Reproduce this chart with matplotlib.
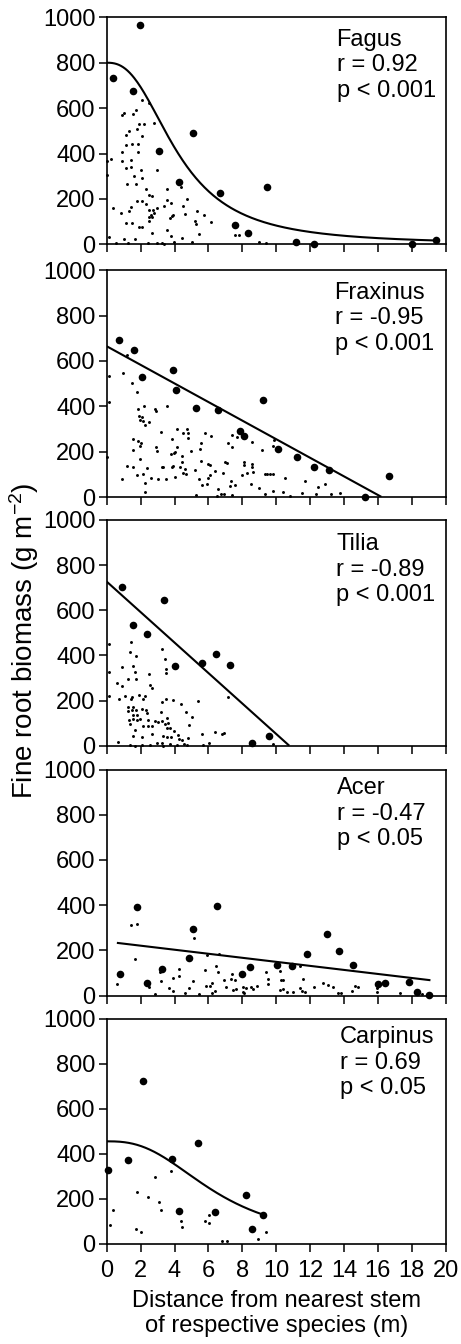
import numpy as np
import matplotlib
matplotlib.use("Agg")
import matplotlib.pyplot as plt

plt.rcParams['font.family'] = ['Liberation Sans', 'DejaVu Sans']
plt.rcParams['mathtext.fontset'] = 'custom'
plt.rcParams['mathtext.rm'] = 'Liberation Sans'
plt.rcParams['mathtext.it'] = 'Liberation Sans:italic'
plt.rcParams['mathtext.bf'] = 'Liberation Sans:bold'

# ---------------- data ----------------
species = ["Fagus", "Fraxinus", "Tilia", "Acer", "Carpinus"]
r_labels = ["r = 0.92", "r = -0.95", "r = -0.89", "r = -0.47", "r = 0.69"]
p_labels = ["p < 0.001", "p < 0.001", "p < 0.001", "p < 0.05", "p < 0.05"]

fagus_large_x = [1.97, 0.35, 1.57, 5.11, 3.10, 4.25, 6.70, 9.46, 7.55, 8.36, 11.17, 12.25, 17.99, 19.41]
fagus_large_y = [965, 733, 674, 489, 412, 276, 226, 251, 86, 49, 11, 2, 2, 19]
fagus_small_x = [2.06, 2.52, 1.73, 1.53, 1.02, 0.90, 1.89, 2.22, 2.81, 1.77, 1.34, 1.14, 2.08, 1.14,
                 1.47, 1.83, 1.83, 0.92, 0.23, 0.04, 0.92, 1.41, 1.14, 1.43, 2.02, 2.95, 0.0, 1.59,
                 2.06, 1.18, 1.73, 2.30, 3.56, 2.52, 2.69, 4.38, 4.74, 4.48, 0.35, 0.82, 1.32, 1.43,
                 1.81, 2.06, 2.30, 2.52, 2.75, 2.99, 3.40, 3.54, 3.79, 2.61, 2.52, 2.69, 2.79, 3.93,
                 3.83, 3.71, 4.62, 5.31, 5.76, 5.21, 5.25, 1.14, 1.51, 1.93, 2.10, 2.52, 3.54, 6.17,
                 2.65, 3.79, 5.43, 0.14, 1.04, 1.69, 7.55, 7.82, 0.55, 1.28, 2.46, 2.95, 3.24, 3.36,
                 3.97, 4.42, 5.01, 8.99, 9.38]
fagus_small_y = [635, 624, 594, 572, 579, 569, 532, 531, 535, 509, 498, 481, 476, 439,
                 444, 444, 406, 407, 378, 366, 366, 370, 336, 341, 327, 326, 307, 299,
                 291, 266, 267, 246, 245, 218, 214, 251, 201, 171, 159, 140, 148, 164,
                 189, 189, 179, 152, 152, 159, 167, 196, 182, 130, 121, 120, 137, 130,
                 126, 115, 134, 145, 129, 103, 89, 93, 93, 75, 78, 105, 64, 100,
                 49, 39, 46, 34, 22, 24, 43, 43, 5, 5, 8, 8, 5, 2,
                 10, 27, 10, 12, 5]
fagus_fit = (800, 4.22, 2.5)      # a / (1 + (x / c) ** b)
fagus_fit_range = (0, 19.4)

fraxinus_large_x = [0.73, 1.61, 3.91, 2.06, 4.07, 5.29, 6.59, 9.20, 7.88, 8.10, 10.13, 11.23, 12.21, 13.10, 16.67, 15.26]
fraxinus_large_y = [694, 650, 562, 528, 473, 391, 385, 429, 290, 271, 210, 175, 134, 118, 94, 2]
fraxinus_small_x = [1.18, 0.16, 0.94, 1.47, 1.77, 0.16, 1.87, 2.22, 2.87, 2.89, 3.58, 1.93, 2.10, 1.96,
                    2.16, 2.50, 2.26, 3.18, 4.17, 4.48, 4.76, 4.78, 4.78, 3.87, 1.53, 1.87, 2.02, 1.96,
                    1.57, 2.89, 2.99, 4.17, 4.03, 3.77, 3.97, 4.42, 4.95, 5.50, 5.54, 5.78, 6.13, 7.14,
                    7.39, 7.37, 7.67, 8.59, 9.18, 9.79, 9.89, 0.04, 1.96, 1.18, 1.57, 2.16, 1.77, 2.36,
                    3.24, 3.34, 3.83, 3.89, 4.46, 4.32, 4.62, 5.21, 4.03, 4.48, 4.68, 2.59, 3.05, 3.50,
                    2.26, 2.26, 0.88, 5.56, 5.98, 6.09, 6.09, 5.96, 6.39, 5.46, 5.64, 5.90, 6.88, 6.96,
                    7.08, 7.31, 7.27, 7.57, 8.00, 8.12, 8.12, 8.30, 8.55, 8.59, 8.49, 8.65, 8.99, 9.34,
                    9.44, 9.63, 9.83, 9.34, 9.83, 10.42, 10.52, 10.81, 6.55, 6.72, 6.92, 7.41, 5.25, 6.49,
                    11.70, 12.49, 12.90, 11.54, 12.33, 13.21, 13.76]
fraxinus_small_y = [626, 535, 546, 501, 462, 421, 390, 400, 388, 381, 400, 357, 351, 340,
                    337, 332, 318, 288, 300, 284, 298, 281, 262, 256, 256, 247, 237, 225,
                    207, 219, 204, 222, 200, 190, 196, 181, 204, 213, 240, 284, 269, 240,
                    221, 272, 263, 241, 207, 225, 251, 175, 168, 137, 134, 101, 97, 126,
                    132, 134, 131, 137, 153, 131, 122, 121, 87, 104, 101, 82, 78, 81,
                    60, 24, 78, 159, 144, 140, 97, 82, 115, 78, 53, 57, 104, 154,
                    149, 72, 49, 51, 97, 141, 153, 104, 147, 134, 56, 112, 41, 100,
                    101, 103, 103, 15, 26, 21, 85, 6, 34, 12, 12, 9, 9, 6,
                    71, 44, 59, 19, 15, 12, 16]
fraxinus_fit = (665, -41.0)       # intercept, slope
fraxinus_fit_range = (0, 16.2)

tilia_large_x = [0.90, 3.36, 1.55, 2.38, 4.03, 5.60, 6.45, 7.29, 9.58, 8.57]
tilia_large_y = [705, 646, 536, 495, 355, 368, 406, 356, 43, 10]
tilia_small_x = [0.16, 1.41, 1.37, 1.71, 3.26, 3.44, 0.16, 0.92, 1.55, 1.67, 1.28, 1.71, 2.48, 3.48,
                 3.50, 0.59, 0.88, 2.55, 2.65, 0.16, 0.75, 1.08, 1.43, 1.51, 1.93, 2.12, 2.26, 3.28,
                 3.48, 3.93, 4.38, 5.41, 7.18, 1.24, 1.57, 1.28, 1.51, 1.71, 2.06, 2.30, 2.36, 1.53,
                 1.77, 3.18, 4.68, 5.01, 4.88, 1.34, 1.57, 1.77, 1.96, 2.46, 2.85, 3.05, 3.24, 3.54,
                 3.64, 1.37, 1.67, 2.16, 2.46, 2.65, 3.44, 3.54, 3.73, 3.97, 4.19, 1.57, 2.06, 2.65,
                 3.34, 3.54, 3.79, 4.28, 4.42, 4.78, 5.60, 6.39, 6.78, 6.92, 0.69, 1.37, 2.06, 2.55,
                 2.95, 3.24, 3.30, 3.73, 4.13, 4.56, 4.76, 5.70, 6.04, 1.67, 9.79]
tilia_small_y = [449, 458, 417, 399, 428, 384, 328, 347, 355, 328, 296, 294, 319, 340,
                 324, 279, 266, 269, 254, 222, 207, 222, 207, 214, 225, 205, 222, 195,
                 205, 202, 185, 200, 217, 173, 173, 154, 158, 158, 163, 158, 143, 136,
                 136, 148, 149, 129, 92, 114, 118, 114, 118, 114, 111, 105, 111, 124,
                 102, 96, 70, 87, 87, 87, 95, 77, 80, 65, 47, 43, 37, 52,
                 43, 40, 37, 28, 25, 33, 52, 59, 52, 58, 15, 2, 2, 2,
                 10, 13, 0, 8, 5, 8, 5, 2, 10, 0, 6]
tilia_fit = (727, -67.5)
tilia_fit_range = (0, 10.77)

acer_large_x = [1.81, 6.51, 5.07, 0.78, 2.36, 3.28, 4.88, 7.96, 8.43, 10.03, 10.91, 11.82, 13.02, 13.71,
                14.51, 16.03, 16.42, 17.84, 18.28, 19.01]
acer_large_y = [391, 397, 295, 96, 58, 118, 165, 96, 127, 136, 130, 183, 271, 198,
                137, 50, 55, 61, 18, 5]
acer_small_x = [1.41, 1.81, 1.65, 5.15, 0.59, 2.52, 2.85, 3.20, 3.16, 3.69, 3.89, 3.89, 4.28, 4.28,
                4.62, 4.86, 5.11, 5.45, 5.80, 5.84, 6.09, 6.19, 5.90, 6.63, 6.45, 6.59, 6.41, 6.21,
                6.94, 7.02, 7.31, 7.43, 7.41, 7.63, 7.57, 8.02, 8.06, 8.20, 8.10, 8.51, 8.61, 8.89,
                9.40, 9.54, 9.50, 10.22, 10.28, 10.42, 10.22, 10.38, 10.62, 11.01, 11.40, 11.60, 11.40, 11.50,
                11.70, 12.25, 12.74, 13.04, 13.33, 13.63, 13.80, 14.45, 14.65, 14.85, 15.93, 15.93, 17.30, 18.58]
acer_small_y = [313, 317, 162, 254, 52, 37, 9, 66, 103, 33, 22, 78, 118, 87,
                13, 33, 66, 8, 114, 43, 44, 55, 180, 184, 131, 106, 22, 10,
                69, 37, 74, 25, 96, 30, 69, 37, 18, 33, 10, 37, 28, 44,
                106, 74, 50, 111, 69, 69, 25, 28, 18, 18, 131, 74, 33, 21,
                18, 40, 55, 47, 37, 10, 10, 21, 43, 40, 18, 33, 13, 8]
acer_fit = (239, -8.93)
acer_fit_range = (0.6, 19.1)

carpinus_large_x = [2.12, 5.37, 1.26, 0.10, 3.87, 4.28, 6.37, 8.20, 8.57, 9.22]
carpinus_large_y = [723, 449, 372, 328, 376, 145, 142, 215, 67, 126]
carpinus_small_x = [0.39, 0.19, 1.77, 2.42, 2.87, 3.11, 3.20, 3.81, 4.40, 4.46, 1.73, 2.00, 5.82, 6.02,
                    6.02, 6.82, 7.10, 8.91, 9.38]
carpinus_small_y = [148, 85, 230, 208, 295, 185, 148, 325, 101, 73, 64, 51, 101, 92,
                    129, 12, 12, 22, 52]
carpinus_fit = (455, 6.46, 2.6)
carpinus_fit_range = (0, 9.25)

x_ticks = [0, 2, 4, 6, 8, 10, 12, 14, 16, 18, 20]
y_ticks = [0, 200, 400, 600, 800, 1000]

# ---------------- layout ----------------
W, H = 461, 1344
fig = plt.figure(figsize=(W / 100, H / 100), dpi=100)
left_px, right_px = 106.7, 445.7
tops_px = [17.3, 270.3, 520.0, 769.5, 1018.7]
bottoms_px = [244.4, 497.0, 745.7, 995.7, 1243.7]
text_x = [0.678, 0.672, 0.677, 0.68, 0.688]
text_y = [0.949, 0.949, 0.941, 0.966, 0.966]

FS = 17
panels = [
    (fagus_large_x, fagus_large_y, fagus_small_x, fagus_small_y, 'hill', fagus_fit, fagus_fit_range),
    (fraxinus_large_x, fraxinus_large_y, fraxinus_small_x, fraxinus_small_y, 'lin', fraxinus_fit, fraxinus_fit_range),
    (tilia_large_x, tilia_large_y, tilia_small_x, tilia_small_y, 'lin', tilia_fit, tilia_fit_range),
    (acer_large_x, acer_large_y, acer_small_x, acer_small_y, 'lin', acer_fit, acer_fit_range),
    (carpinus_large_x, carpinus_large_y, carpinus_small_x, carpinus_small_y, 'hill', carpinus_fit, carpinus_fit_range),
]

axes = []
for i, (lx, ly, sx, sy, kind, fit, rng) in enumerate(panels):
    ax = fig.add_axes([left_px / W, 1 - bottoms_px[i] / H,
                       (right_px - left_px) / W, (bottoms_px[i] - tops_px[i]) / H])
    axes.append(ax)
    ax.scatter(sx, sy, s=4.5, color='black', linewidths=0, clip_on=False, zorder=3)
    ax.scatter(lx, ly, s=30, color='black', linewidths=0, clip_on=False, zorder=4)
    xs = np.linspace(rng[0], rng[1], 300)
    if kind == 'hill':
        a, c, b = fit
        ys = a / (1 + (xs / c) ** b)
    else:
        b0, b1 = fit
        ys = b0 + b1 * xs
    ax.plot(xs, ys, color='black', lw=1.5, zorder=2, solid_capstyle='butt')
    ax.set_xlim(0, 20)
    ax.set_ylim(0, 1000)
    ax.set_xticks(x_ticks)
    ax.set_yticks(y_ticks)
    ax.tick_params(direction='out', width=1.1, labelsize=FS, colors='black')
    ax.tick_params(axis='y', length=5.5, pad=2.5)
    ax.tick_params(axis='x', length=5.8, pad=6)
    for sp in ax.spines.values():
        sp.set_linewidth(1.2)
    if i < 4:
        ax.tick_params(labelbottom=False)
    ax.text(text_x[i], text_y[i], f"{species[i]}\n{r_labels[i]}\n{p_labels[i]}",
            transform=ax.transAxes, ha='left', va='top', fontsize=FS, linespacing=1.2)

axes[-1].set_xlabel("Distance from nearest stem\nof respective species (m)", fontsize=FS,
                    labelpad=6, linespacing=1.15)
fig.text(24 / W, 1 - 641 / H, r"Fine root biomass (g m$^{-2}$)", rotation=90,
         ha='center', va='center', fontsize=20)

fig.savefig("out.png", dpi=100)
